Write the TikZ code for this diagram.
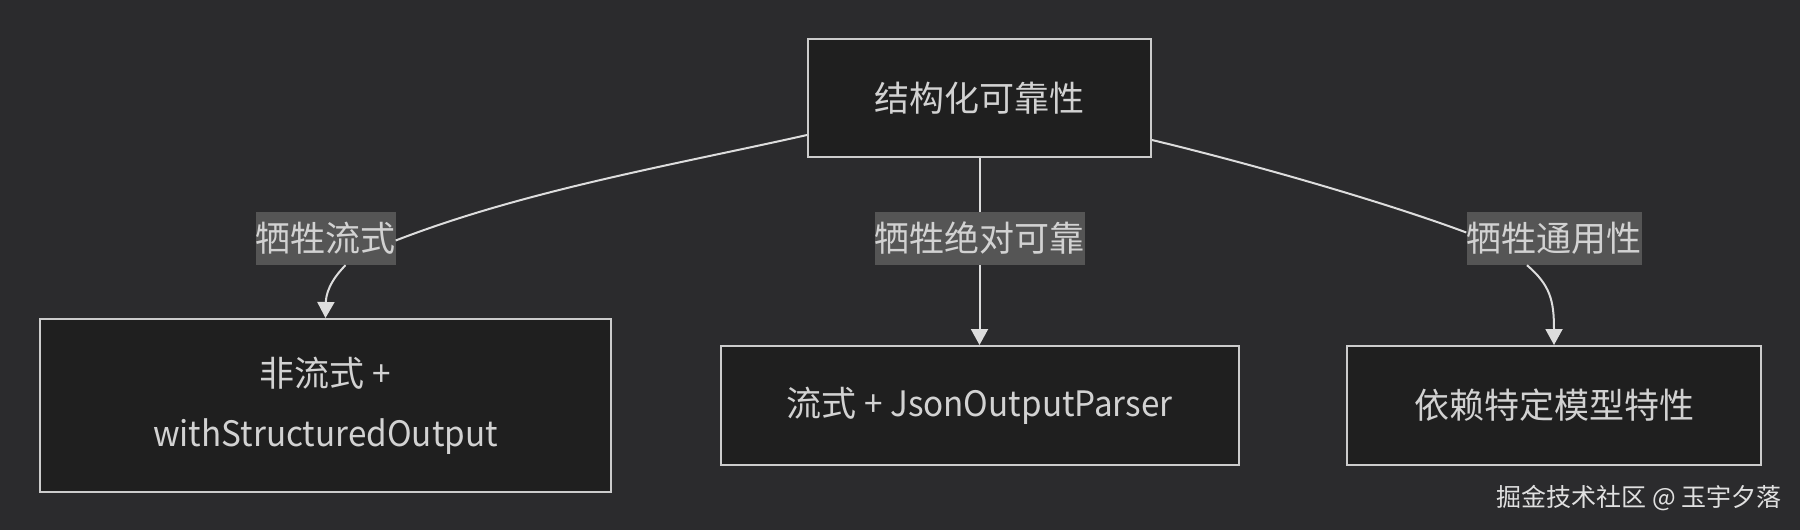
\documentclass[tikz,border=0pt]{standalone}
\usepackage{fontspec}
\setmainfont{Noto Sans CJK SC}
\newfontfamily\latnarrow[FakeStretch=0.95]{Noto Sans CJK SC}
\usetikzlibrary{arrows.meta}
\definecolor{bg}{HTML}{2B2B2D}
\definecolor{boxfill}{HTML}{1F1F1F}
\definecolor{boxline}{HTML}{CCCCCC}
\definecolor{txt}{HTML}{D2D2D2}
\definecolor{lblfill}{HTML}{555555}
\definecolor{edgecol}{HTML}{DDDDDD}
\definecolor{wmcol}{HTML}{E0E0E0}
\begin{document}
\begin{tikzpicture}[x=1pt,y=-1pt,
  box/.style={draw=boxline,line width=2pt,fill=boxfill,text=txt,inner sep=0pt,align=center,font=\fontsize{35}{60}\selectfont},
  lbl/.style={fill=lblfill,text=txt,inner sep=0pt,minimum height=53pt,font=\fontsize{35}{52}\selectfont},
  conn/.style={draw=edgecol,line width=2pt},
  arr/.style={conn,-{Triangle[length=16pt,width=17pt]}}]
\fill[bg] (0,0) rectangle (1800,530);
\useasboundingbox (0,0) rectangle (1800,530);
\node[box,minimum width=343pt,minimum height=118pt] (top) at (979.5,98) {结构化可靠性};
\node[box,minimum width=571pt,minimum height=173pt] (a) at (325.5,405.5) {非流式 {\latnarrow +}\\{\latnarrow withStructuredOutput}};
\node[box,minimum width=518pt,minimum height=119pt] (b) at (979.5,405.5) {流式 {\latnarrow + JsonOutputParser}};
\node[box,minimum width=414pt,minimum height=119pt] (c) at (1554,405.5) {依赖特定模型特性};
\node[lbl] (e1) at (325.5,238.5) {牺牲流式};
\node[lbl] (e2) at (979.5,238.5) {牺牲绝对可靠};
\node[lbl] (e3) at (1554,238.5) {牺牲通用性};
\draw[conn] ([yshift=-37pt]top.west) .. controls (678,164) and (526,190) .. ([yshift=-2pt]e1.east);
\draw[arr] ([xshift=20pt]e1.south) .. controls (329,282) and (326,295) .. (a.north);
\draw[conn] (top.south) -- (e2.north);
\draw[arr] (e2.south) -- (b.north);
\draw[conn] ([yshift=-42pt]top.east) .. controls (1260,166) and (1390,204) .. ([yshift=6pt]e3.west);
\draw[arr] ([xshift=-27pt]e3.south) .. controls (1550,285) and (1554,300) .. (c.north);
\node[anchor=east,text=wmcol,inner sep=0pt,font=\fontsize{25}{30}\selectfont] (wm) at (1782,498) {掘金技术社区 @ 玉宇夕落};
\end{tikzpicture}
\end{document}
